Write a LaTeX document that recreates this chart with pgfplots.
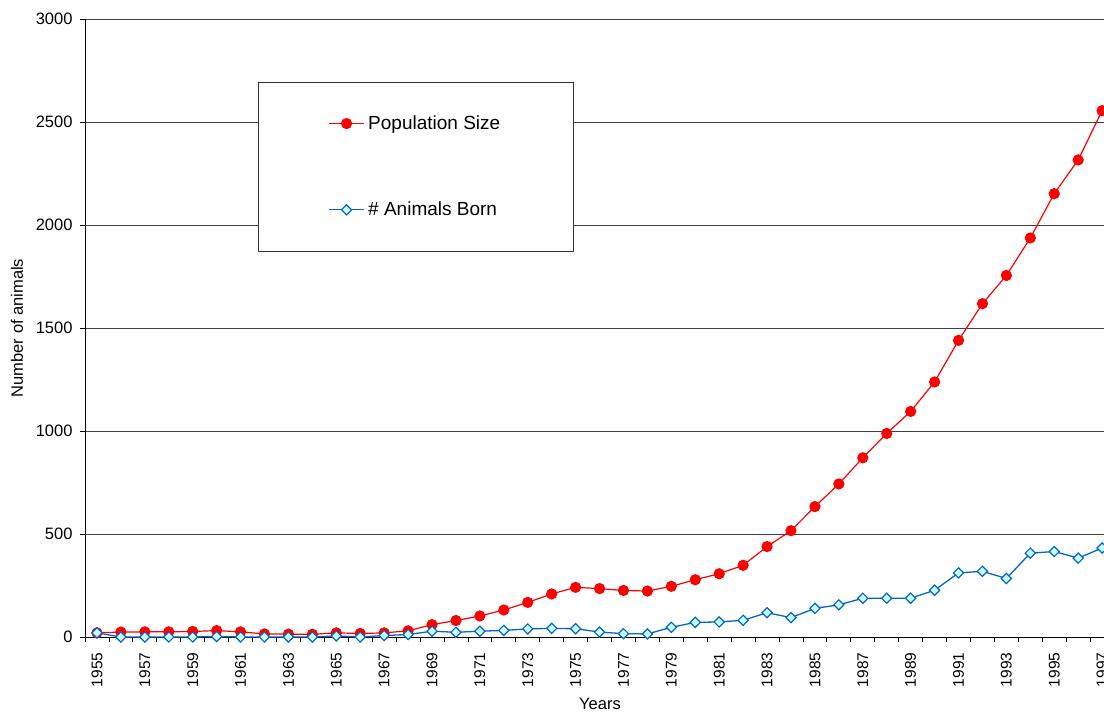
\documentclass[border=0pt]{standalone}
\usepackage{pgfplots}
\pgfplotsset{compat=1.18}
\usepackage{pgfplotstable}
\usepackage{fontspec}
\setmainfont{Liberation Sans}
\definecolor{popred}{RGB}{255,0,0}
\definecolor{bornblue}{RGB}{0,102,204}
\definecolor{bornfill}{RGB}{204,255,255}
\pgfplotstableread{
year pop
1955 20
1956 24
1957 25
1958 25
1959 27
1960 31
1961 25
1962 15
1963 14
1964 13
1965 20
1966 17
1967 20
1968 30
1969 60
1970 80
1971 102
1972 131
1973 168
1974 209
1975 241
1976 235
1977 226
1978 223
1979 246
1980 278
1981 307
1982 348
1983 439
1984 516
1985 633
1986 743
1987 870
1988 988
1989 1095
1990 1238
1991 1440
1992 1618
1993 1755
1994 1937
1995 2152
1996 2316
1997 2555
}\poptable
\pgfplotstableread{
year born
1955 20
1956 0
1957 0
1958 0
1959 0
1960 2
1961 0
1962 0
1963 0
1964 0
1965 5
1966 0
1967 7
1968 12
1969 28
1970 23
1971 28
1972 32
1973 39
1974 42
1975 40
1976 24
1977 16
1978 15
1979 47
1980 71
1981 73
1982 81
1983 118
1984 94
1985 139
1986 156
1987 188
1988 188
1989 188
1990 227
1991 311
1992 319
1993 284
1994 407
1995 415
1996 383
1997 432
}\borntable
\begin{document}
\begin{tikzpicture}
\begin{axis}[
  at={(0,0)}, anchor=south west,
  scale only axis, width=1019pt, height=618pt,
  xmin=1954.5, xmax=1997.08, ymin=0, ymax=3000,
  axis lines=left,
  axis line style={-, black, line width=0.9pt},
  tick align=outside,
  major tick length=5pt,
  tick style={black, line width=0.8pt},
  ytick={0,500,...,3000},
  ymajorgrids,
  grid style={black!75, line width=0.8pt},
  xtick={1954.5,1955.5,...,1996.6},
  xticklabels={},
  extra x ticks={1955,1957,...,1997},
  extra x tick labels={1955,1957,1959,1961,1963,1965,1967,1969,1971,1973,1975,1977,1979,1981,1983,1985,1987,1989,1991,1993,1995,1997},
  extra x tick style={major tick length=0pt, grid=none},
  xticklabel shift=12pt,
  xticklabel style={rotate=90, anchor=east, font=\fontsize{15.5}{18}\selectfont},
  yticklabel style={xshift=-4pt, font=\fontsize{16.5}{19}\selectfont},
  /pgf/number format/assume math mode=true,
  /pgf/number format/set thousands separator={},
  xlabel={Years},
  ylabel={Number of animals},
  xlabel style={at={(rel axis cs:0.5054,-0.1181)}, anchor=base, font=\fontsize{16.5}{19}\selectfont},
  ylabel style={at={(rel axis cs:-0.0667,0.5)}, anchor=center, font=\fontsize{16.5}{19}\selectfont},
  legend style={at={(rel axis cs:0.1698,0.898)}, anchor=north west,
    draw=black!80, line width=0.8pt, inner xsep=70pt, inner ysep=30pt,
    row sep=64pt, font=\fontsize{19}{22}\selectfont,
    nodes={inner sep=3.5pt}},
  legend cell align=left,
  legend image code/.code={\draw[mark repeat=2,mark phase=2] plot coordinates {(0pt,0pt) (17.5pt,0pt) (35pt,0pt)};},
  clip=false,
]
\addplot[popred, line width=1.2pt, mark=*, mark size=5pt, mark options={fill=popred, draw=popred}] table[x=year, y=pop] {\poptable};
\addlegendentry{Population Size}
\addplot[bornblue, line width=1.3pt, mark=square*, mark size=3.6pt, mark options={rotate=45, fill=bornfill, draw=bornblue, line width=1.2pt}] table[x=year, y=born] {\borntable};
\addlegendentry{\# Animals Born}
\end{axis}
\pgfresetboundingbox
\path[use as bounding box] (-85pt,-75pt) rectangle (1019pt,637pt);
\end{tikzpicture}
\end{document}
